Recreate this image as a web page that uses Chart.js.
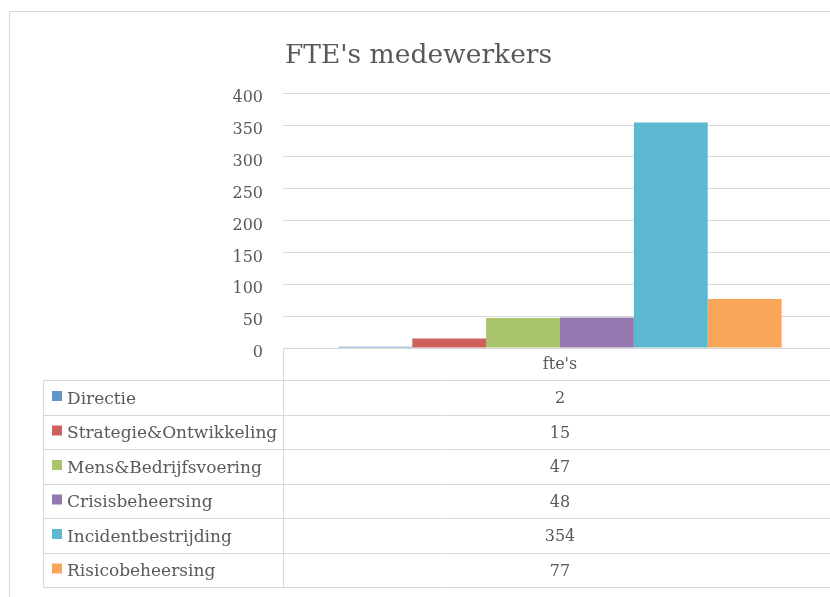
<!DOCTYPE html>
<html>
<head>
<meta charset="utf-8">
<script src="https://cdn.jsdelivr.net/npm/chart.js@4/dist/chart.umd.min.js"></script>
<style>
    html, body { margin: 0; padding: 0; background: #fff; overflow: hidden; }
    #wrap { position: relative; width: 830px; height: 597px; overflow: hidden; }
    #wrap canvas { position: absolute; left: 0; top: 0; }
</style>
</head>
<body>
<div id="wrap"><canvas id="fteChart" width="840" height="597"></canvas></div>
<script>
// Data
const categories = ["fte's"];
const seriesNames = ['Directie', 'Strategie&Ontwikkeling', 'Mens&Bedrijfsvoering', 'Crisisbeheersing', 'Incidentbestrijding', 'Risicobeheersing'];
const seriesValues = [2, 15, 47, 48, 354, 77];
const seriesColors = ['#6194CB', '#CE615C', '#A9C46B', '#9479B0', '#5CB8D1', '#F9A65A'];
const yTicks = { min: 0, max: 400, step: 50 };

const FONT = "'DejaVu Serif', serif";
const TEXT = '#595959';
const LINE = '#d9d9d9';

/* Excel-style data table under the plot, with the legend keys in it */
const dataTable = {
    id: 'dataTable',
    afterDraw(chart) {
        const ctx = chart.ctx;
        const area = chart.chartArea;
        const xScale = chart.scales.x;
        const right = chart.width;
        const tableLeft = 43;
        const headTop = area.bottom;
        const headBottom = 380;
        const rowH = 34.5;
        const n = seriesNames.length;
        const bottom = headBottom + rowH * n;

        ctx.save();
        ctx.strokeStyle = LINE;
        ctx.lineWidth = 1;

        // outer frame of the chart object
        ctx.beginPath();
        ctx.moveTo(9.5, chart.height);
        ctx.lineTo(9.5, 11.5);
        ctx.lineTo(right, 11.5);
        ctx.stroke();

        // divider between label column and value column
        ctx.beginPath();
        ctx.moveTo(area.left + 0.5, headTop);
        ctx.lineTo(area.left + 0.5, bottom);
        ctx.moveTo(tableLeft + 0.5, headBottom);
        ctx.lineTo(tableLeft + 0.5, bottom);
        ctx.stroke();

        // horizontal rules
        ctx.beginPath();
        for (let i = 0; i <= n; i++) {
            const y = Math.round(headBottom + rowH * i) + 0.5;
            ctx.moveTo(tableLeft, y);
            ctx.lineTo(right, y);
        }
        ctx.stroke();

        ctx.fillStyle = TEXT;
        ctx.textBaseline = 'middle';

        // header with category names
        ctx.font = '16px ' + FONT;
        categories.forEach((c, i) => {
            ctx.textAlign = 'center';
            ctx.fillText(c, xScale.getPixelForValue(i), (headTop + headBottom) / 2 + 1);
        });

        // rows
        seriesNames.forEach((name, i) => {
            const top = headBottom + rowH * i;
            const mid = top + rowH / 2 + 2;
            ctx.fillStyle = seriesColors[i];
            ctx.fillRect(52, top + 11, 10, 10);
            ctx.fillStyle = TEXT;
            ctx.textAlign = 'left';
            ctx.font = '17px ' + FONT;
            ctx.fillText(name, 67, mid);
            ctx.textAlign = 'center';
            ctx.font = '16px ' + FONT;
            ctx.fillText(String(seriesValues[i]), xScale.getPixelForValue(0), mid);
        });
        ctx.restore();
    }
};

new Chart(document.getElementById('fteChart'), {
    type: 'bar',
    data: {
        labels: categories,
        datasets: seriesNames.map((name, i) => ({
            label: name,
            data: [seriesValues[i]],
            backgroundColor: seriesColors[i],
            borderWidth: 0,
            categoryPercentage: 0.8,
            barPercentage: 1.0
        }))
    },
    options: {
        responsive: false,
        animation: false,
        layout: { padding: { left: 0, right: 3, top: 0, bottom: 249 } },
        scales: {
            x: { display: false },
            y: {
                min: yTicks.min,
                max: yTicks.max,
                afterFit(scale) { scale.width = 283; },
                border: { display: false },
                grid: { color: LINE, drawTicks: false },
                ticks: {
                    stepSize: yTicks.step,
                    padding: 20,
                    labelOffset: 5,
                    color: TEXT,
                    font: { family: FONT, size: 16 }
                }
            }
        },
        plugins: {
            legend: { display: false },
            tooltip: { enabled: false },
            title: {
                display: true,
                text: "FTE's medewerkers",
                color: TEXT,
                font: { family: FONT, size: 26.5, weight: 'normal' },
                padding: { top: 40, bottom: 21.5 }
            }
        }
    },
    plugins: [dataTable]
});
</script>
</body>
</html>
